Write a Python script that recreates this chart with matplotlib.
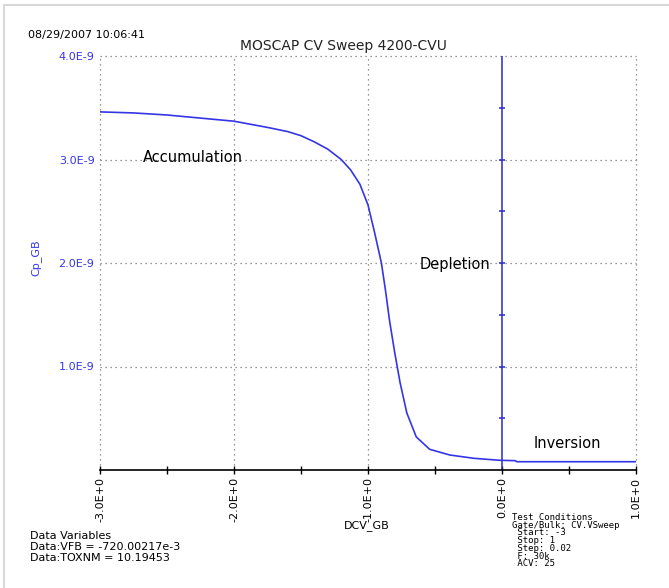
import matplotlib
matplotlib.use("Agg")
import matplotlib.pyplot as plt
from matplotlib import font_manager as fm
from matplotlib.lines import Line2D

# Sweep data: gate voltage (V) and parallel capacitance (nF)
dcv_gb = [-3.0, -2.75, -2.5, -2.25, -2.0, -1.75, -1.6, -1.5, -1.4, -1.3,
          -1.2, -1.13, -1.06, -1.0, -0.95, -0.90, -0.87, -0.84, -0.80, -0.76,
          -0.71, -0.64, -0.54, -0.39, -0.21, -0.02, 0.10, 0.11, 1.0]
cp_gb_nf = [3.46, 3.45, 3.43, 3.40, 3.37, 3.31, 3.27, 3.23, 3.17, 3.10,
            3.00, 2.90, 2.76, 2.56, 2.29, 2.00, 1.74, 1.45, 1.13, 0.84,
            0.55, 0.32, 0.20, 0.145, 0.113, 0.094, 0.090, 0.080, 0.080]

x_ticks = [-3.0, -2.0, -1.0, 0.0, 1.0]
x_minor = [-2.5, -1.5, -0.5, 0.5]
x_tick_labels = ["-3.0E+0", "-2.0E+0", "-1.0E+0", "0.0E+0", "1.0E+0"]
y_ticks = [1e-9, 2e-9, 3e-9, 4e-9]
y_tick_labels = ["1.0E-9", "2.0E-9", "3.0E-9", "4.0E-9"]
y_axis_marks = [0.5e-9, 1e-9, 1.5e-9, 2e-9, 2.5e-9, 3e-9, 3.5e-9]

regions = ["Accumulation", "Depletion", "Inversion"]
region_x = [-2.31, -0.35, 0.49]
region_y = [3.02e-9, 1.99e-9, 0.26e-9]

test_conditions = ["Test Conditions", "Gate/Bulk: CV.VSweep", " Start: -3",
                   " Stop: 1", " Step: 0.02", " F: 30k", " ACV: 25"]
data_variables = ["Data Variables", "Data:VFB = -720.00217e-3",
                  "Data:TOXNM = 10.19453"]

available = {f.name for f in fm.fontManager.ttflist}
NARROW = "Liberation Sans Narrow" if "Liberation Sans Narrow" in available else "DejaVu Sans"

BLUE = "#3535e6"
AXBLUE = "#2a2ad0"

W, H = 669, 588
fig = plt.figure(figsize=(W / 100, H / 100), dpi=100)
fig.patch.set_facecolor("white")

def fx(px):
    return px / W

def fy(py):
    return 1 - py / H

ax = fig.add_axes([fx(100), fy(470), fx(636) - fx(100), fy(56) - fy(470)])
ax.set_xlim(-3, 1)
ax.set_ylim(0, 4e-9)
for s in ["left", "right", "top"]:
    ax.spines[s].set_visible(False)
ax.spines["bottom"].set_color("black")
ax.spines["bottom"].set_linewidth(1.2)

# dotted grid, including the plot-area borders
for xv in x_ticks:
    if xv != 0.0:
        ax.axvline(xv, color="#777777", lw=0.9, ls=(0, (1, 3)), clip_on=False, zorder=1)
for yv in y_ticks:
    ax.axhline(yv, color="#777777", lw=0.9, ls=(0, (1, 3)), clip_on=False, zorder=1)

# y axis drawn at V = 0
ax.axvline(0.0, color=AXBLUE, lw=1.1, zorder=2)
ax.plot([0.0] * len(y_axis_marks), y_axis_marks, ls="none", marker="_",
        ms=5, mew=1.1, color=AXBLUE, zorder=2)

ax.plot(dcv_gb, [c * 1e-9 for c in cp_gb_nf], color=BLUE, lw=1.2, zorder=3)

ax.set_xticks(x_ticks)
ax.set_xticklabels(x_tick_labels, rotation=90, fontsize=8, family=NARROW)
ax.set_xticks(x_minor, minor=True)
ax.tick_params(axis="x", which="both", direction="inout", length=6, width=1,
               color="black", pad=2)
ax.set_yticks(y_ticks)
ax.set_yticklabels(y_tick_labels, fontsize=8, family=NARROW, color=BLUE)
ax.tick_params(axis="y", length=0, pad=4)

for t, xv, yv in zip(regions, region_x, region_y):
    ax.text(xv, yv, t, ha="center", va="center", fontsize=10.5,
            family="DejaVu Sans", color="black")

fig.text(fx(343), fy(46), "MOSCAP CV Sweep 4200-CVU", ha="center", va="center",
         fontsize=10, family="DejaVu Sans", color="#222222")
fig.text(fx(28), fy(35), "08/29/2007 10:06:41", ha="left", va="center",
         fontsize=8, family=NARROW, color="black")
fig.text(fx(36), fy(258), "Cp_GB", rotation=90, ha="center", va="center",
         fontsize=8, family=NARROW, color=BLUE)
fig.text(fx(367), fy(526), "DCV_GB", ha="center", va="center",
         fontsize=8, family=NARROW, color="black")

fig.text(fx(30), fy(531), "\n".join(data_variables), ha="left", va="top",
         fontsize=8, family=NARROW, color="black", linespacing=1.1)

fig.text(fx(512), fy(513), "\n".join(test_conditions), ha="left", va="top",
         fontsize=6.5, family="DejaVu Sans Mono", color="black",
         linespacing=0.82)

# light window frame on the left and top
fig.add_artist(Line2D([fx(4), fx(4)], [fy(5), 0], color="#d8d8d8", lw=1.5))
fig.add_artist(Line2D([fx(4), 1], [fy(5), fy(5)], color="#d8d8d8", lw=1.5))

fig.savefig("out.png", dpi=100, facecolor="white")
